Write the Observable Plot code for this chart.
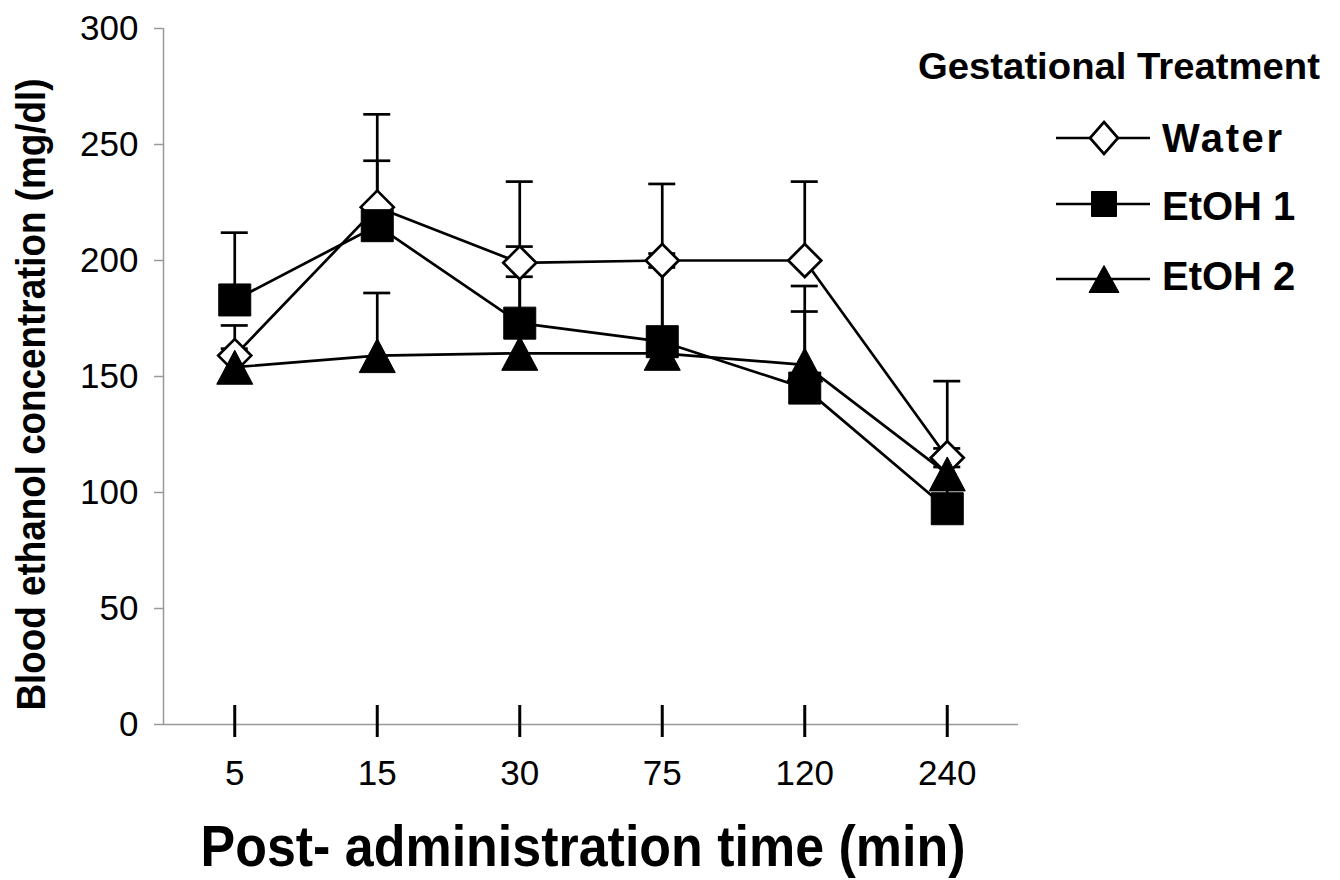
<!DOCTYPE html>
<html><head><meta charset="utf-8">
<script src="https://cdn.jsdelivr.net/npm/d3@7"></script>
<script src="https://cdn.jsdelivr.net/npm/@observablehq/plot@0.6"></script>
<style>
body{margin:0;background:#fff;font-family:"Liberation Sans",Arial,sans-serif;}
#wrap{position:relative;width:1340px;height:880px;overflow:hidden;}
#wrap svg{display:block;}
#legend{position:absolute;left:0;top:0;pointer-events:none;}
</style></head><body><div id="wrap"></div>
<script>
// ---- data ----
const times = ["5", "15", "30", "75", "120", "240"];
const seriesNames = ["Water", "EtOH 1", "EtOH 2"];
const water    = [159, 223, 199, 200, 200, 115];
const waterErr = [13, 40, 35, 33, 34, 33];
const etoh1    = [183, 215, 173, 165, 145, 93];
const etoh1Err = [29, 28, 33, 38, 33, 26];
const etoh2    = [154, 159, 160, 160, 155, 108];
const etoh2Err = [8, 27, 33, 37, 34, 3];
const yTicks = [0, 50, 100, 150, 200, 250, 300];
const yLabel = "Blood ethanol concentration (mg/dl)";
const xLabel = "Post- administration time (min)";
const legendTitle = "Gestational Treatment";

const values = [water, etoh1, etoh2];
const errors = [waterErr, etoh1Err, etoh2Err];
const rows = seriesNames.flatMap((name, k) =>
  times.map((t, i) => ({series: name, i, time: t, value: values[k][i], err: errors[k][i]})));

// custom symbols (centered on bounding box, like the spreadsheet markers)
const rad = s => Math.sqrt(s / Math.PI);
const diamond = {draw(c, s) { const r = rad(s); c.moveTo(0, -r); c.lineTo(r, 0); c.lineTo(0, r); c.lineTo(-r, 0); c.closePath(); }};
const square = {draw(c, s) { const r = rad(s); c.moveTo(-r, -r); c.lineTo(r, -r); c.lineTo(r, r); c.lineTo(-r, r); c.closePath(); }};
const triangle = {draw(c, s) { const r = rad(s); c.moveTo(0, -r); c.lineTo(r * 1.06, r); c.lineTo(-r * 1.06, r); c.closePath(); }};

const font = "Liberation Sans, Arial, sans-serif";
const ink = "black";

const chart = Plot.plot({
  width: 1340, height: 880,
  marginLeft: 163, marginRight: 322, marginTop: 28, marginBottom: 156,
  style: {fontFamily: font, background: "white", overflow: "visible", color: ink},
  x: {domain: [-0.5, 5.5]},
  y: {domain: [0, 300]},
  marks: [
    Plot.ruleY([0], {stroke: "#999", strokeWidth: 1.5}),
    Plot.ruleX([-0.5], {y1: 0, y2: 300, stroke: "#999", strokeWidth: 1.5}),
    Plot.axisY({ticks: yTicks, tickSize: 9, tickPadding: 16, fontSize: 35, stroke: "#999", strokeWidth: 1.5, label: null}),
    Plot.axisX({ticks: d3.range(times.length), tickFormat: i => times[i], tickSize: 0, tickPadding: 36, fontSize: 35, label: null}),
    Plot.ruleX(d3.range(times.length), {x: d => d, y1: -5.6, y2: 8.2, stroke: ink, strokeWidth: 3}),
    Plot.ruleX(rows, {x: "i", y1: "value", y2: d => d.value + d.err, stroke: ink, strokeWidth: 2.7}),
    Plot.ruleY(rows, {x1: "i", x2: "i", y: d => d.value + d.err, insetLeft: -13.5, insetRight: -13.5, stroke: ink, strokeWidth: 2.7}),
    Plot.line(rows, {x: "i", y: "value", z: "series", stroke: ink, strokeWidth: 2.7}),
    Plot.dot(rows.filter(d => d.series === seriesNames[0]), {x: "i", y: "value", symbol: diamond, r: 16.5, fill: "white", stroke: ink, strokeWidth: 2.7}),
    Plot.dot(rows.filter(d => d.series === seriesNames[1]), {x: "i", y: "value", symbol: square, r: 16, fill: ink, stroke: ink, strokeWidth: 1}),
    Plot.dot(rows.filter(d => d.series === seriesNames[2]), {x: "i", y: "value", symbol: triangle, r: 17, fill: ink, stroke: ink, strokeWidth: 1}),
    Plot.text([yLabel], {frameAnchor: "left", textAnchor: "middle", lineAnchor: "middle", dx: -132, dy: 18, rotate: -90, fontSize: 41, fontWeight: "bold", fill: ink}),
    Plot.text([xLabel], {frameAnchor: "bottom", textAnchor: "middle", lineAnchor: "middle", dx: -8, dy: 123, fontSize: 58, fontWeight: "bold", fill: ink})
  ]
});
document.getElementById("wrap").appendChild(chart);

// condense bold titles to match the reference proportions
d3.select(chart).selectAll("text").each(function() {
  const t = this.textContent;
  if (t === yLabel) { this.setAttribute("textLength", 632); this.setAttribute("lengthAdjust", "spacingAndGlyphs"); }
  if (t === xLabel) { this.setAttribute("textLength", 765); this.setAttribute("lengthAdjust", "spacingAndGlyphs"); }
});

// ---- legend (right side) ----
const leg = d3.select("#wrap").append("svg").attr("id", "legend")
  .attr("width", 1340).attr("height", 880).style("font-family", font);
leg.append("text").attr("x", 918).attr("y", 79).attr("font-size", 36).attr("font-weight", "bold")
  .attr("textLength", 402).attr("lengthAdjust", "spacingAndGlyphs").text(legendTitle);
const legRows = [
  {cy: 138, base: 152, path: "M0,-16L14,0L0,16L-14,0Z", fill: "white", sw: 2.7, len: 120},
  {cy: 204, base: 220, path: "M-12.5,-12.5L12.5,-12.5L12.5,12.5L-12.5,12.5Z", fill: ink, sw: 1, len: null},
  {cy: 279, base: 290, path: "M0,-13.5L15,13.5L-15,13.5Z", fill: ink, sw: 1, len: null}
];
seriesNames.forEach((name, k) => {
  const r = legRows[k];
  const g = leg.append("g");
  g.append("line").attr("x1", 1056).attr("x2", 1150).attr("y1", r.cy).attr("y2", r.cy)
    .attr("stroke", ink).attr("stroke-width", 2.7);
  g.append("path").attr("d", r.path).attr("transform", `translate(1104,${r.cy})`)
    .attr("fill", r.fill).attr("stroke", ink).attr("stroke-width", r.sw);
  const tx = g.append("text").attr("x", 1162).attr("y", r.base).attr("font-size", 40)
    .attr("font-weight", "bold").attr("fill", ink).text(name);
  if (r.len) tx.attr("textLength", r.len).attr("lengthAdjust", "spacing");
});
</script></body></html>
